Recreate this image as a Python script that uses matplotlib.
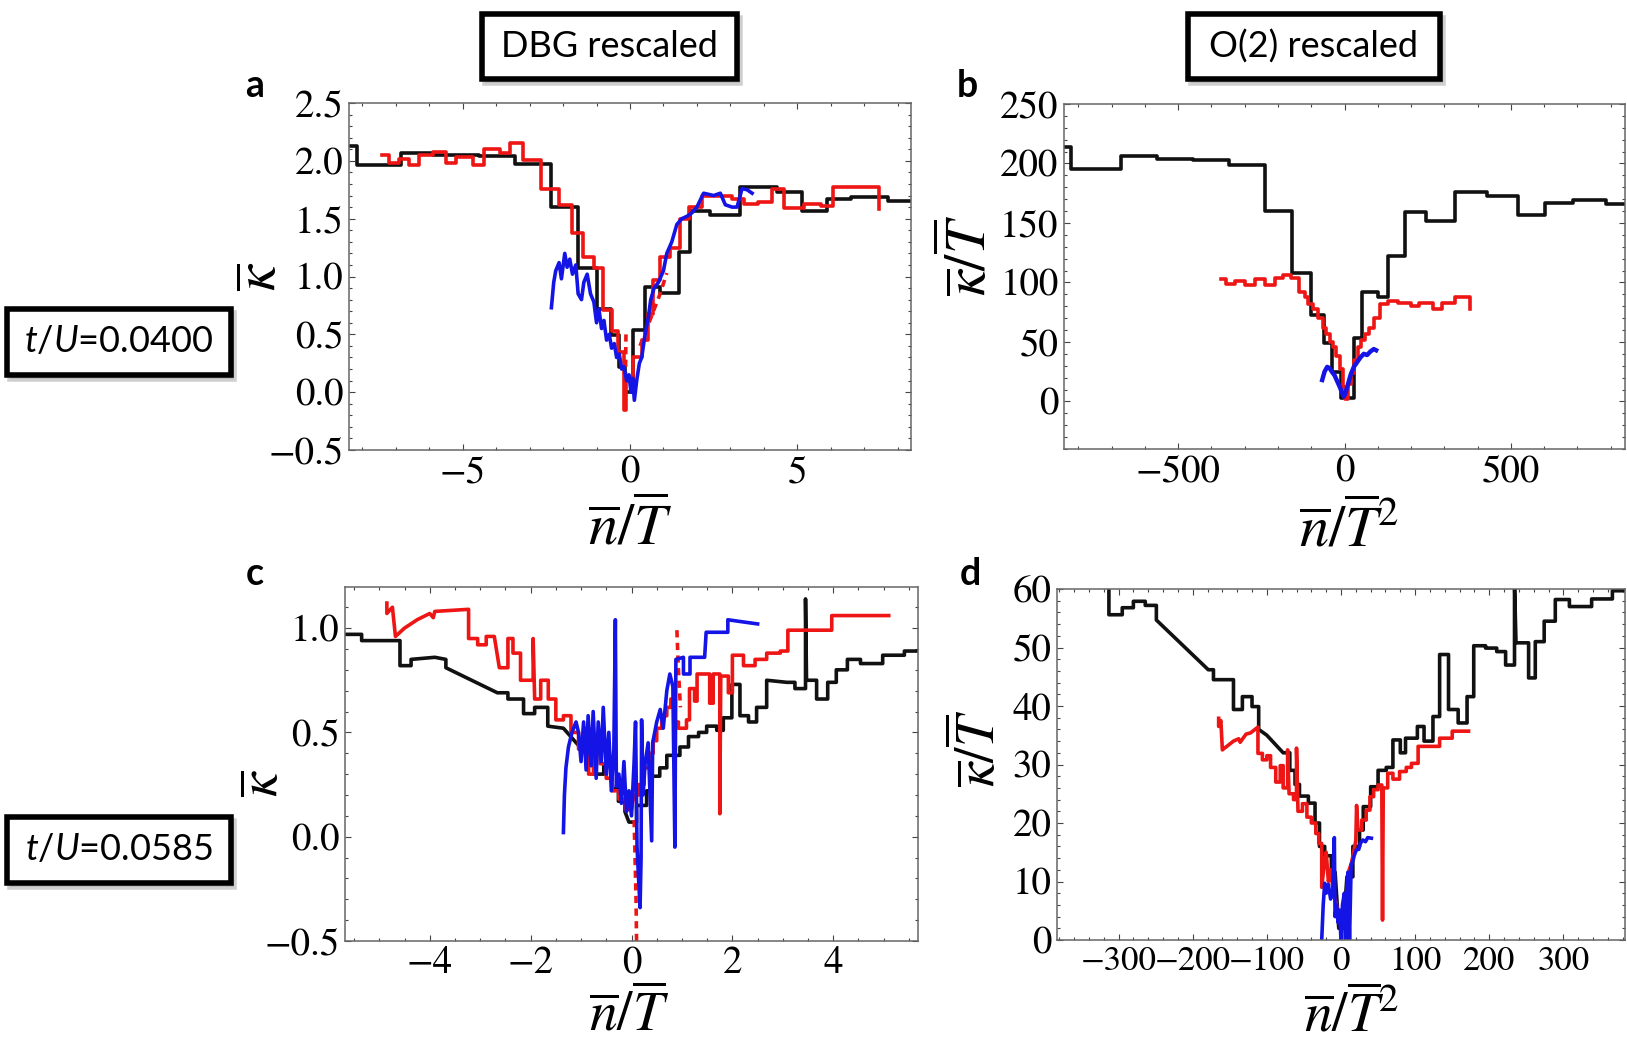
import numpy as np
import matplotlib
matplotlib.use("Agg")
import matplotlib.pyplot as plt
from matplotlib.ticker import MultipleLocator, FuncFormatter
from matplotlib.patches import Rectangle

plt.rcParams['font.family'] = ['STIXGeneral', 'DejaVu Serif']
plt.rcParams['mathtext.fontset'] = 'stix'
plt.rcParams['mathtext.rm'] = 'Lato'
plt.rcParams['mathtext.it'] = 'Lato:italic'

TICK_FONT = ['STIXGeneral', 'DejaVu Serif']

# ---------------- panel a : kappa vs n/T, t/U = 0.0400 ----------------
a_black_x = [-8.4, -8.15, -6.85, -5.9, -4.5, -3.45, -2.35, -1.56, -1.0, -0.58, -0.33, -0.15, 0.1,
             0.45, 0.9, 1.45, 1.8, 2.4, 3.28, 4.4, 5.15, 5.9, 6.6, 7.7, 8.4]
a_black_y = [2.13, 1.96, 2.07, 2.05, 2.04, 1.97, 1.60, 1.07, 0.72, 0.49, 0.22, 0.0, 0.54,
             0.91, 0.86, 1.21, 1.57, 1.53, 1.77, 1.73, 1.57, 1.67, 1.69, 1.65, 1.65]
a_red_x = [-7.4, -7.2, -6.9, -6.6, -6.3, -5.9, -5.5, -5.2, -4.7, -4.35, -3.9, -3.6, -3.2, -2.65,
           -2.12, -1.73, -1.4, -1.07, -0.81, -0.55, -0.35, -0.18, -0.12, 0.1, 0.35, 0.55, 0.7,
           0.9, 1.2, 1.48, 1.75, 2.14, 3.05, 3.4, 3.84, 4.25, 4.6, 5.2, 5.7, 6.07, 6.5, 7.45, 7.45]
a_red_y = [2.05, 1.98, 2.02, 1.96, 2.05, 2.08, 1.98, 2.03, 1.96, 2.10, 2.07, 2.15, 2.01, 1.76,
           1.62, 1.38, 1.17, 1.07, 0.71, 0.53, 0.35, -0.15, 0.1, 0.3, 0.45, 0.68, 0.97,
           1.17, 1.25, 1.5, 1.6, 1.70, 1.67, 1.63, 1.64, 1.76, 1.59, 1.63, 1.61, 1.77, 1.77, 1.77, 1.58]
a_red_dash1 = [(-0.14, 0.0), (-0.13, 0.25), (-0.12, 0.52)]
a_red_dash2 = [(0.3, 0.40), (0.5, 0.55), (0.7, 0.70), (0.9, 0.85), (1.1, 1.03)]
a_blue = [(-2.35, 0.73), (-2.28, 0.95), (-2.22, 1.05), (-2.12, 1.12), (-2.05, 0.98), (-1.95, 1.20),
          (-1.88, 1.08), (-1.8, 1.15), (-1.72, 1.02), (-1.62, 1.10), (-1.55, 0.85), (-1.45, 0.80),
          (-1.38, 0.95), (-1.28, 1.02), (-1.18, 0.85), (-1.08, 0.78), (-1.0, 0.60), (-0.93, 0.72),
          (-0.85, 0.55), (-0.78, 0.62), (-0.7, 0.45), (-0.62, 0.50), (-0.55, 0.38), (-0.47, 0.42),
          (-0.4, 0.30), (-0.32, 0.33), (-0.25, 0.20), (-0.18, 0.22), (-0.1, 0.10), (-0.03, 0.15),
          (0.03, 0.0), (0.08, 0.12), (0.13, -0.07), (0.2, 0.10), (0.28, 0.25), (0.35, 0.30),
          (0.45, 0.50), (0.55, 0.65), (0.62, 0.80), (0.72, 0.90), (0.85, 0.95), (1.0, 1.05),
          (1.1, 1.20), (1.25, 1.30), (1.4, 1.45), (1.55, 1.50), (1.7, 1.52), (1.85, 1.55),
          (2.0, 1.60), (2.2, 1.72), (2.5, 1.70), (2.7, 1.72), (2.85, 1.62), (3.05, 1.60),
          (3.2, 1.60), (3.35, 1.76), (3.5, 1.75), (3.65, 1.72)]

# ---------------- panel b : kappa/T vs n/T^2, t/U = 0.0400 ----------------
b_black_x = [-845, -823, -673, -565, -456, -347, -238, -157, -102, -62, -37, -12, 28, 53, 102,
             132, 181, 245, 331, 429, 521, 603, 687, 785, 845]
b_black_y = [214, 195, 206, 204, 203, 199, 160, 108, 73, 49, 25, 3, 53, 92, 88,
             122, 159, 152, 176, 173, 157, 167, 169, 166, 166]
b_red_x = [-371, -355, -330, -300, -270, -240, -210, -185, -160, -136, -120, -109, -95, -80, -66,
           -55, -45, -35, -25, -15, -6, 3, 10, 20, 30, 40, 50, 62, 75, 90, 106, 130, 160, 200,
           225, 265, 293, 333, 377, 377]
b_red_y = [103, 99, 101, 98, 103, 98, 104, 106, 104, 92, 88, 82, 78, 70, 62,
           57, 50, 46, 38, 27, 12, 2, 15, 24, 35, 46, 52, 57, 62, 70, 82, 84, 83, 80,
           83, 78, 83, 88, 88, 78]
b_blue_x = [-67, -60, -52, -45, -38, -30, -22, -14, -7, -2, 3, 10, 18, 28, 38, 48, 58, 68, 78, 88, 95]
b_blue_y = [18, 25, 29, 28, 25, 22, 17, 12, 7, 4, 7, 14, 22, 29, 33, 37, 40, 39, 42, 44, 43]

# ---------------- panel c : kappa vs n/T, t/U = 0.0585 ----------------
c_black = [(-5.68, 0.97), (-5.35, 0.97), (-5.35, 0.94), (-4.59, 0.94), (-4.59, 0.82), (-4.37, 0.82),
           (-4.37, 0.85), (-3.90, 0.86), (-3.68, 0.85), (-3.68, 0.81), (-2.66, 0.69), (-2.45, 0.69),
           (-2.45, 0.66), (-2.14, 0.66), (-2.14, 0.59), (-1.92, 0.59), (-1.92, 0.62), (-1.66, 0.62),
           (-1.66, 0.53), (-1.35, 0.52), (-0.95, 0.41), (-0.75, 0.41), (-0.75, 0.30), (-0.55, 0.30),
           (-0.55, 0.34), (-0.39, 0.34), (-0.39, 0.23), (-0.26, 0.23), (-0.26, 0.17), (-0.13, 0.17),
           (-0.13, 0.12), (-0.05, 0.07), (0.10, 0.07), (0.10, 0.15), (0.30, 0.15), (0.30, 0.22),
           (0.40, 0.22), (0.40, 0.29), (0.56, 0.29), (0.56, 0.33), (0.70, 0.33), (0.70, 0.39),
           (0.96, 0.39), (0.96, 0.43), (1.13, 0.43), (1.13, 0.48), (1.33, 0.48), (1.33, 0.50),
           (1.49, 0.50), (1.49, 0.53), (1.69, 0.53), (1.69, 0.51), (1.82, 0.51), (1.82, 0.57),
           (1.99, 0.57), (1.99, 0.73), (2.15, 0.73), (2.15, 0.58), (2.32, 0.58), (2.32, 0.55),
           (2.48, 0.55), (2.48, 0.62), (2.68, 0.62), (2.68, 0.75), (3.08, 0.74), (3.24, 0.74),
           (3.24, 0.71), (3.45, 0.71), (3.45, 1.14), (3.47, 0.75), (3.67, 0.75), (3.67, 0.66),
           (3.89, 0.66), (3.89, 0.74), (4.06, 0.74), (4.06, 0.80), (4.28, 0.80), (4.28, 0.85),
           (4.54, 0.85), (4.54, 0.83), (4.98, 0.83), (4.98, 0.87), (5.41, 0.87), (5.41, 0.89),
           (5.68, 0.89)]
c_red = [(-4.85, 1.12), (-4.85, 1.07), (-4.74, 1.10), (-4.68, 0.96), (-4.5, 1.00), (-4.25, 1.04),
         (-4.0, 1.07), (-3.93, 1.05), (-3.9, 1.08), (-3.23, 1.09), (-3.23, 0.95), (-3.05, 0.95),
         (-3.05, 0.92), (-2.88, 0.92), (-2.88, 0.96), (-2.72, 0.96), (-2.62, 0.81), (-2.45, 0.81),
         (-2.45, 0.95), (-2.35, 0.95), (-2.35, 0.88), (-2.2, 0.88), (-2.2, 0.75), (-1.95, 0.75),
         (-1.95, 0.95), (-1.92, 0.66), (-1.8, 0.66), (-1.8, 0.75), (-1.65, 0.75), (-1.65, 0.66),
         (-1.5, 0.66), (-1.5, 0.56), (-1.35, 0.56), (-1.35, 0.58), (-1.2, 0.58), (-1.2, 0.50),
         (-1.05, 0.50), (-1.05, 0.42), (-0.95, 0.42), (-0.95, 0.52), (-0.85, 0.52), (-0.85, 0.30),
         (-0.75, 0.30), (-0.75, 0.45), (-0.62, 0.45), (-0.62, 0.35), (-0.5, 0.35), (-0.5, 0.28),
         (-0.38, 0.28), (-0.38, 0.22), (-0.25, 0.22), (-0.25, 0.18), (-0.12, 0.18), (-0.12, 0.13),
         (0.0, 0.13), (0.05, 0.20), (0.15, 0.20), (0.15, 0.25), (0.25, 0.25), (0.25, 0.33),
         (0.35, 0.33), (0.35, 0.40), (0.43, 0.40), (0.43, 0.46), (0.5, 0.46), (0.5, 0.52),
         (0.6, 0.52), (0.6, 0.58), (0.7, 0.58), (0.7, 0.62), (0.78, 0.62), (0.78, 0.66),
         (0.85, 0.66), (0.85, 0.55), (0.93, 0.55), (0.93, 0.52), (1.09, 0.52), (1.09, 0.56),
         (1.15, 0.56), (1.15, 0.71), (1.25, 0.71), (1.25, 0.65), (1.3, 0.65), (1.3, 0.78),
         (1.55, 0.78), (1.55, 0.64), (1.62, 0.64), (1.62, 0.78), (1.75, 0.78), (1.75, 0.11),
         (1.77, 0.77), (1.92, 0.77), (1.92, 0.69), (2.0, 0.69), (2.0, 0.87), (2.22, 0.87),
         (2.22, 0.82), (2.45, 0.82), (2.45, 0.85), (2.68, 0.85), (2.68, 0.88), (2.95, 0.88),
         (2.95, 0.89), (3.1, 0.89), (3.1, 0.99), (3.97, 0.99), (3.97, 1.06), (5.1, 1.06)]
c_red_dash1 = [(0.10, -0.5), (0.09, -0.3), (0.07, -0.1), (0.05, 0.10)]
c_red_dash2 = [(0.90, 0.99), (0.93, 0.80), (0.97, 0.62)]
c_blue = [(-1.35, 0.02), (-1.33, 0.20), (-1.3, 0.33), (-1.25, 0.43), (-1.18, 0.50), (-1.1, 0.55),
          (-1.05, 0.50), (-1.0, 0.36), (-0.95, 0.55), (-0.9, 0.32), (-0.86, 0.58), (-0.8, 0.34),
          (-0.76, 0.60), (-0.7, 0.28), (-0.66, 0.55), (-0.6, 0.36), (-0.56, 0.62), (-0.5, 0.30),
          (-0.45, 0.50), (-0.4, 0.22), (-0.35, 0.42), (-0.32, 1.04), (-0.3, 0.24), (-0.25, 0.30),
          (-0.2, 0.16), (-0.15, 0.36), (-0.1, 0.12), (-0.05, 0.22), (0.0, 0.10), (0.05, 0.35),
          (0.08, 0.55), (0.11, -0.05), (0.14, -0.20), (0.17, -0.34), (0.19, -0.10), (0.2, 0.56),
          (0.23, 0.20), (0.27, 0.35), (0.33, 0.45), (0.4, -0.02), (0.42, 0.45), (0.5, 0.55),
          (0.57, 0.61), (0.63, 0.52), (0.7, 0.70), (0.76, 0.78), (0.82, 0.72), (0.86, -0.05),
          (0.88, 0.85), (1.03, 0.86), (1.03, 0.78), (1.16, 0.78), (1.16, 0.86), (1.45, 0.86),
          (1.48, 0.98), (1.91, 0.98), (1.91, 1.04), (2.2, 1.03), (2.5, 1.02)]

# ---------------- panel d : kappa/T vs n/T^2, t/U = 0.0585 ----------------
d_black = [(-313, 61.0), (-313, 55.6), (-295, 55.6), (-295, 56.8), (-280, 56.8), (-280, 57.9),
           (-264, 57.9), (-264, 57.2), (-249, 57.2), (-249, 54.7), (-179, 46.2), (-172, 46.2),
           (-172, 44.5), (-145, 44.5), (-145, 39.4), (-133, 39.4), (-133, 41.6), (-120, 41.6),
           (-120, 39.9), (-111, 39.9), (-111, 36.0), (-100, 35.0), (-78, 32.0), (-69, 32.0),
           (-69, 29.0), (-62, 29.0), (-62, 26.6), (-56, 26.6), (-56, 24.6), (-44, 24.6),
           (-44, 23.4), (-35, 23.4), (-35, 20.0), (-29, 20.0), (-29, 16.0), (-22, 16.0),
           (-22, 14.4), (-13, 14.4), (-13, 11.6), (-8, 11.6), (-3, 2.0), (3, 2.0), (8, 10.8),
           (16, 10.8), (16, 16.0), (25, 16.0), (25, 18.8), (30, 18.8), (30, 22.8), (40, 22.8),
           (40, 26.2), (50, 26.2), (50, 29.0), (61, 29.0), (61, 29.5), (70, 29.5), (70, 34.2),
           (80, 34.2), (80, 32.0), (87, 32.0), (87, 34.5), (103, 34.5), (103, 36.5), (112, 36.5),
           (112, 34.0), (124, 34.0), (124, 38.2), (133, 38.2), (133, 48.8), (145, 48.8),
           (145, 39.4), (158, 39.4), (158, 37.1), (170, 37.1), (170, 41.6), (179, 41.6),
           (179, 50.3), (195, 50.3), (195, 49.9), (210, 49.9), (210, 49.3), (222, 49.3),
           (222, 47.0), (234, 47.0), (234, 61.0), (236, 50.8), (253, 50.8), (253, 44.8),
           (262, 44.8), (262, 51.0), (274, 51.0), (274, 54.5), (289, 54.5), (289, 58.2),
           (308, 58.2), (308, 57.0), (338, 57.0), (338, 58.3), (366, 58.3), (366, 59.7),
           (383, 59.7)]
d_red = [(-165, 37.9), (-165, 36.5), (-162, 37.5), (-160, 32.5), (-145, 34.0), (-138, 34.4),
         (-136, 33.8), (-128, 35.2), (-122, 35.4), (-112, 36.4), (-112, 31.9), (-106, 31.9),
         (-106, 30.8), (-100, 30.8), (-100, 31.5), (-95, 31.5), (-95, 29.5), (-88, 29.5),
         (-88, 27.0), (-82, 27.0), (-82, 29.8), (-78, 29.8), (-78, 26.0), (-72, 26.0),
         (-72, 32.5), (-70, 25.0), (-64, 25.0), (-64, 24.0), (-60, 24.0), (-60, 32.8),
         (-58, 22.0), (-52, 22.0), (-52, 23.3), (-46, 23.3), (-46, 21.0), (-40, 21.0),
         (-40, 20.0), (-34, 20.0), (-34, 18.2), (-30, 18.2), (-30, 16.5), (-26, 16.5),
         (-26, 9.0), (-23, 12.5), (-20, 15.0), (-17, 10.0), (-14, 12.0), (-10, 8.0), (-6, 6.0),
         (-3, 4.0), (0, 2.5), (4, 5.0), (8, 8.0), (11, 12.0), (14, 13.1), (17, 15.0), (20, 17.0),
         (21, 23.0), (23, 18.8), (28, 18.8), (28, 20.5), (34, 20.5), (34, 22.2), (39, 22.2),
         (39, 24.5), (44, 24.5), (44, 25.7), (50, 25.7), (50, 26.5), (55, 26.5), (56, 3.4),
         (57, 26.0), (63, 26.0), (63, 28.5), (70, 28.5), (70, 27.5), (79, 27.5), (79, 28.8),
         (88, 28.8), (88, 29.5), (95, 29.5), (95, 30.2), (104, 30.2), (104, 33.1), (133, 33.1),
         (133, 34.5), (150, 34.5), (150, 35.7), (172, 35.7)]
d_blue = [(-26, 0.0), (-24, 6.0), (-22, 9.7), (-20, 8.0), (-17, 9.5), (-14, 7.0), (-11, 8.5),
          (-9, 17.5), (-8, 4.0), (-6, 6.0), (-4, 3.0), (-2, 5.1), (0, 0.0), (2, 6.0), (4.5, 8.0),
          (6, 0.0), (8, 9.0), (9.3, 11.6), (11.5, 0.0), (13.7, 12.9), (16, 13.5), (18, 14.5),
          (20.7, 15.4), (24, 15.5), (26, 16.5), (29.6, 17.1), (33, 16.8), (36, 17.5), (41, 17.4)]

BLACK, RED, BLUE = '#111111', '#ee1515', '#1414e6'
LW = 2.6

W, H = 1627, 1047
fig = plt.figure(figsize=(W / 100, H / 100), dpi=100)


def px_axes(left, top, right, bottom):
    return fig.add_axes([left / W, 1 - bottom / H, (right - left) / W, (bottom - top) / H])


def xy(pairs):
    arr = np.asarray(pairs, dtype=float)
    return arr[:, 0], arr[:, 1]


def dec1(v, pos):
    if abs(v) < 1e-9:
        v = 0.0
    return f"{v:.1f}".replace('-', '\u2212')


def intfmt(v, pos):
    return f"{int(round(v))}".replace('-', '\u2212')


def style(ax, xlim, ylim, xmaj, xmin, ymaj, ymin, yfmt, xsize=28):
    ax.set_xlim(*xlim)
    ax.set_ylim(*ylim)
    ax.xaxis.set_major_locator(MultipleLocator(xmaj))
    ax.xaxis.set_minor_locator(MultipleLocator(xmin))
    ax.yaxis.set_major_locator(MultipleLocator(ymaj))
    ax.yaxis.set_minor_locator(MultipleLocator(ymin))
    ax.xaxis.set_major_formatter(FuncFormatter(intfmt))
    ax.yaxis.set_major_formatter(FuncFormatter(yfmt))
    ax.tick_params(which='both', direction='in', top=True, right=True,
                   color='#444444', width=0.8, pad=4)
    ax.tick_params(which='major', length=4)
    ax.tick_params(which='minor', length=2)
    for lab in ax.get_xticklabels():
        lab.set_fontfamily(TICK_FONT)
        lab.set_fontsize(xsize)
    for lab in ax.get_yticklabels():
        lab.set_fontfamily(TICK_FONT)
        lab.set_fontsize(28)
    for s in ax.spines.values():
        s.set_color('#666666')
        s.set_linewidth(1.1)


def labels(ax, xl, yl, xpos, ypos, size=42):
    ax.set_xlabel(xl, fontsize=size, math_fontfamily='stix')
    ax.set_ylabel(yl, fontsize=size, math_fontfamily='stix')
    ax.xaxis.set_label_coords(*xpos)
    ax.yaxis.set_label_coords(*ypos)
    ax.xaxis.label.set_va('center')
    ax.yaxis.label.set_va('center')


ax_a = px_axes(349, 103, 911, 450)
ax_b = px_axes(1064, 104, 1625, 449)
ax_c = px_axes(345, 587, 918, 941)
ax_d = px_axes(1057, 589, 1625, 940)

# panel a
ax_a.step(a_black_x, a_black_y, where='post', color=BLACK, lw=LW)
ax_a.step(a_red_x, a_red_y, where='post', color=RED, lw=LW)
for seg in (a_red_dash1, a_red_dash2):
    ax_a.plot(*xy(seg), color=RED, lw=LW, ls=(0, (2, 1.5)))
ax_a.plot(*xy(a_blue), color=BLUE, lw=LW)
style(ax_a, (-8.4, 8.4), (-0.5, 2.5), 5, 1, 0.5, 0.1, dec1)

# panel b
ax_b.step(b_black_x, b_black_y, where='post', color=BLACK, lw=LW)
ax_b.step(b_red_x, b_red_y, where='post', color=RED, lw=LW)
ax_b.plot(b_blue_x, b_blue_y, color=BLUE, lw=LW + 0.6)
style(ax_b, (-843, 843), (-40, 250), 500, 100, 50, 10, intfmt)

# panel c
ax_c.plot(*xy(c_black), color=BLACK, lw=LW)
ax_c.plot(*xy(c_red), color=RED, lw=LW)
for seg in (c_red_dash1, c_red_dash2):
    ax_c.plot(*xy(seg), color=RED, lw=LW, ls=(0, (2, 1.5)))
ax_c.plot(*xy(c_blue), color=BLUE, lw=LW)
style(ax_c, (-5.68, 5.68), (-0.5, 1.197), 2, 0.5, 0.5, 0.1, dec1)

# panel d
ax_d.plot(*xy(d_black), color=BLACK, lw=LW)
ax_d.plot(*xy(d_red), color=RED, lw=LW)
ax_d.plot(*xy(d_blue), color=BLUE, lw=LW)
style(ax_d, (-383, 383), (0, 60), 100, 20, 10, 2, intfmt, xsize=25)

labels(ax_a, r'$\overline{n}/\overline{T}$', r'$\overline{\kappa}$', (0.50, -0.225), (-0.155, 0.50))
labels(ax_b, r'$\overline{n}/\overline{T}^2$', r'$\overline{\kappa}/\overline{T}$', (0.508, -0.235), (-0.168, 0.562))
labels(ax_c, r'$\overline{n}/\overline{T}$', r'$\overline{\kappa}$', (0.496, -0.212), (-0.14, 0.447), size=40)
labels(ax_d, r'$\overline{n}/\overline{T}^2$', r'$\overline{\kappa}/\overline{T}$', (0.519, -0.218), (-0.136, 0.547), size=40)

# panel letters
for letter, (px, py) in zip('abcd', [(255, 97), (967, 97), (255, 585), (970, 585)]):
    fig.text(px / W, 1 - py / H, letter, fontsize=27, fontweight='bold', family='Lato',
             ha='center', va='baseline')


def boxed(left, top, right, bottom, text):
    x0, y0 = left / W, 1 - bottom / H
    w, h = (right - left) / W, (bottom - top) / H
    fig.patches.append(Rectangle((x0 + 3 / W, y0 - 4 / H), w, h, transform=fig.transFigure,
                                 facecolor='#b0b0b0', edgecolor='#b0b0b0', lw=4, alpha=0.6,
                                 zorder=1))
    fig.patches.append(Rectangle((x0, y0), w, h, transform=fig.transFigure,
                                 facecolor='white', edgecolor='black', lw=4, zorder=2))
    fig.text(x0 + w / 2, y0 + h / 2, text, ha='center', va='center', fontsize=26,
             family='Lato', math_fontfamily='custom', zorder=3)


boxed(481.5, 14, 736.5, 79, 'DBG rescaled')
boxed(1187.5, 14, 1439.5, 79, 'O(2) rescaled')
boxed(6.5, 308.5, 230.5, 374.5, r'$t/U$=0.0400')
boxed(6.5, 817, 230.5, 882.5, r'$t/U$=0.0585')

fig.savefig('out.png', dpi=100)
